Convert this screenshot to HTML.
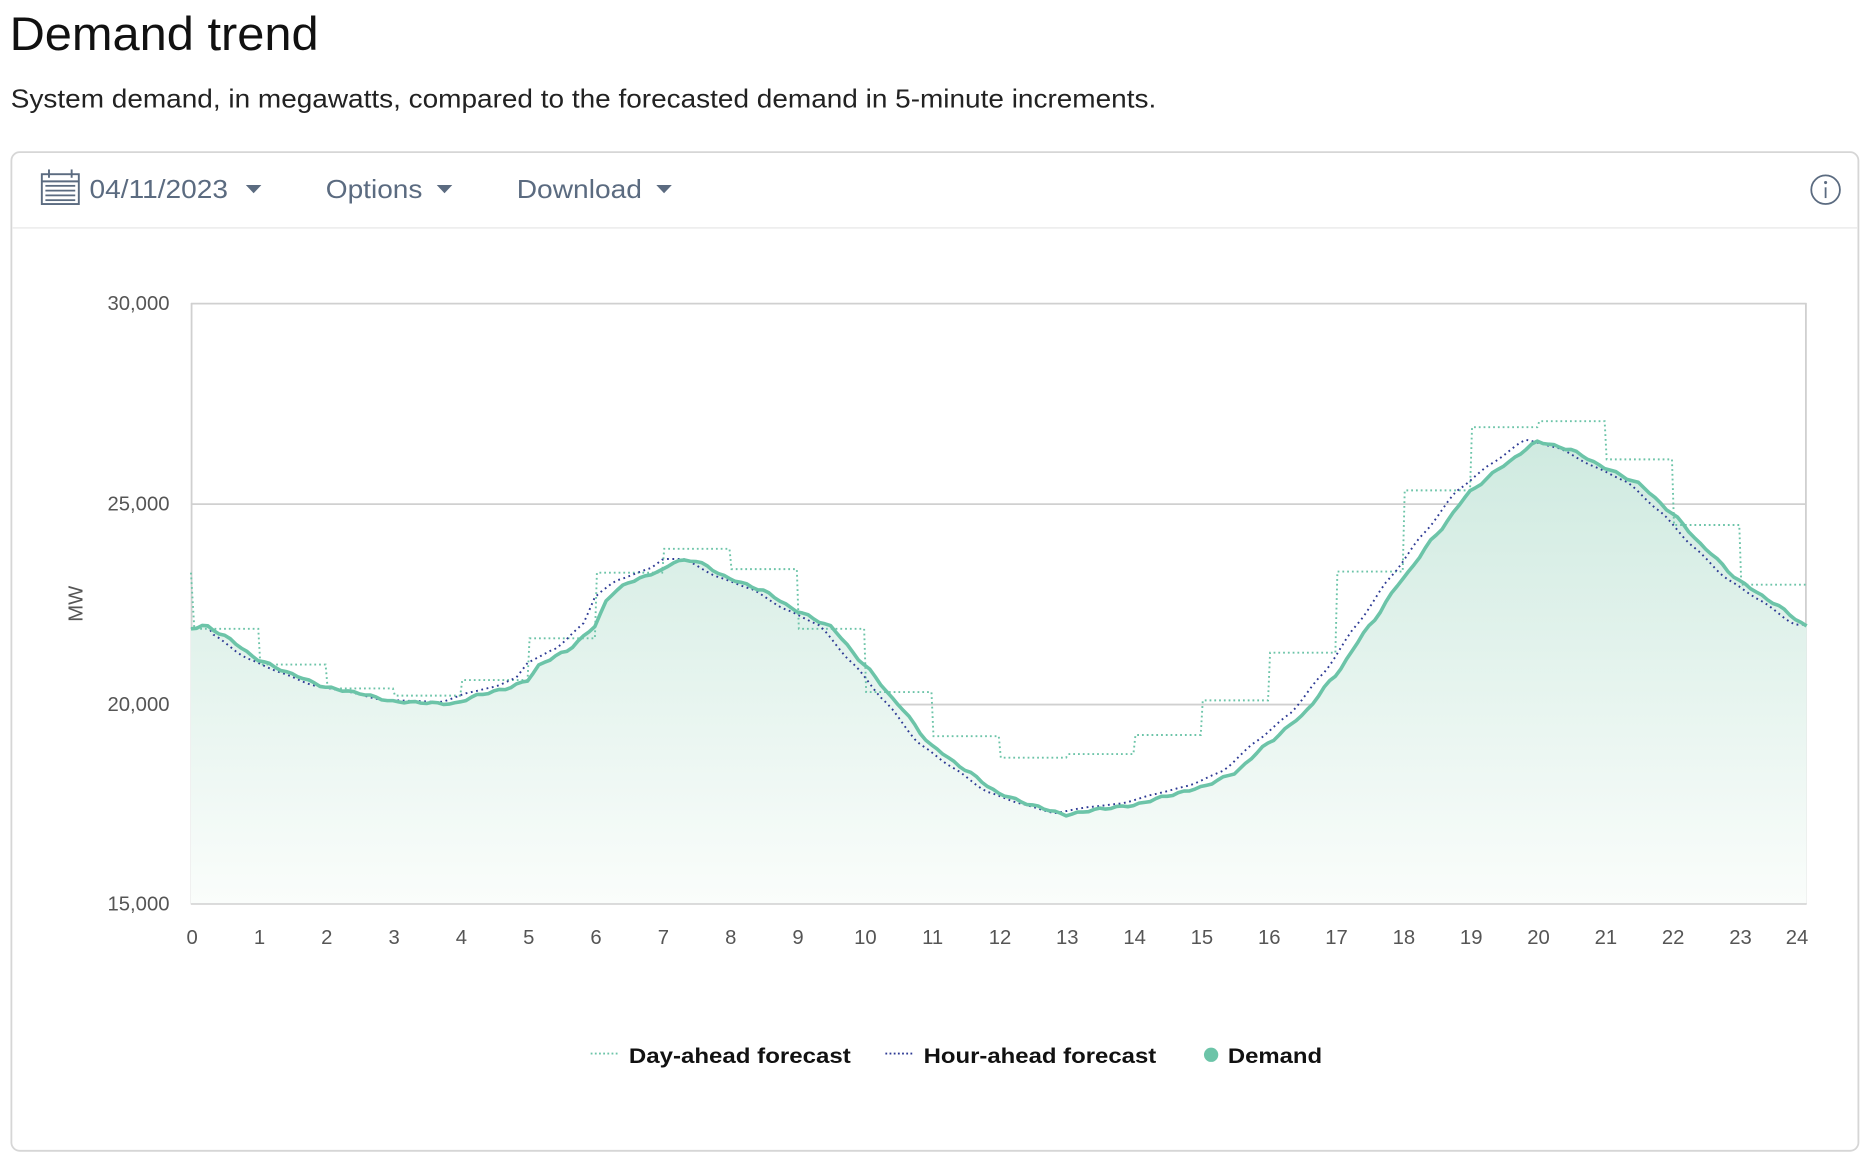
<!DOCTYPE html>
<html><head><meta charset="utf-8"><style>
html,body{margin:0;padding:0;background:#fff;width:1871px;height:1165px;overflow:hidden}
svg{display:block}
text{font-family:"Liberation Sans",Arial,sans-serif}
</style></head><body>
<svg id="s" width="1871" height="1165" viewBox="0 0 1568 976.4" xmlns="http://www.w3.org/2000/svg">
<defs>
<linearGradient id="g" x1="0" y1="0" x2="0" y2="1">
<stop offset="0" stop-color="#cfeae0"/><stop offset="1" stop-color="#fafdfb"/>
</linearGradient>
</defs>
<text x="8" y="42" font-size="40" fill="#111" textLength="259" lengthAdjust="spacingAndGlyphs">Demand trend</text>
<text x="9" y="90" font-size="22" fill="#222" textLength="960" lengthAdjust="spacingAndGlyphs">System demand, in megawatts, compared to the forecasted demand in 5-minute increments.</text>
<rect x="9.5" y="127.5" width="1548" height="837" rx="7" fill="#fff" stroke="#d6d6d6" stroke-width="1.5"/>
<line x1="10" y1="191" x2="1557" y2="191" stroke="#eee" stroke-width="1.5"/>
<g stroke="#5b6b80" fill="none" stroke-width="1.6">
<rect x="35" y="146" width="31" height="25"/>
<line x1="35" y1="152" x2="66" y2="152"/>
<line x1="41" y1="142" x2="41" y2="149"/><line x1="60" y1="142" x2="60" y2="149"/>
</g>
<g fill="#5b6b80">
<rect x="38" y="155" width="25" height="1.5"/><rect x="38" y="159" width="25" height="1.5"/><rect x="38" y="163" width="25" height="1.5"/><rect x="38" y="167" width="25" height="1.5"/>
</g>
<text x="75" y="166" font-size="22" fill="#5b6b80" textLength="116" lengthAdjust="spacingAndGlyphs">04/11/2023</text>
<path d="M206 155h13l-6.5 7z" fill="#5b6b80"/>
<text x="273" y="166" font-size="22" fill="#5b6b80" textLength="81" lengthAdjust="spacingAndGlyphs">Options</text>
<path d="M366 155h13l-6.5 7z" fill="#5b6b80"/>
<text x="433" y="166" font-size="22" fill="#5b6b80" textLength="105" lengthAdjust="spacingAndGlyphs">Download</text>
<path d="M550 155h13l-6.5 7z" fill="#5b6b80"/>
<circle cx="1530" cy="159" r="12" fill="none" stroke="#5b6b80" stroke-width="1.5"/>
<circle cx="1530" cy="153" r="1.3" fill="#5b6b80"/>
<line x1="1530" y1="157" x2="1530" y2="166" stroke="#5b6b80" stroke-width="1.5"/>
<g stroke="#d0d0d0" stroke-width="1.5">
<line x1="160" y1="254.5" x2="1514" y2="254.5"/>
<line x1="160" y1="422.5" x2="1514" y2="422.5"/>
<line x1="160" y1="590.5" x2="1514" y2="590.5"/>
<line x1="160" y1="757.5" x2="1514" y2="757.5"/>
<line x1="160.5" y1="254" x2="160.5" y2="758"/>
<line x1="1513.5" y1="254" x2="1513.5" y2="758"/>
</g>
<g font-size="17" fill="#555" text-anchor="end">
<text x="142" y="260">30,000</text><text x="142" y="428">25,000</text><text x="142" y="596">20,000</text><text x="142" y="763">15,000</text>
</g>
<text transform="translate(69,506) rotate(-90)" font-size="17" fill="#555" text-anchor="middle">MW</text>
<g id="xl" font-size="17" fill="#555" text-anchor="middle"></g>
<path id="fill" fill="url(#g)"/>
<path id="day" fill="none" stroke="#6cc4a8" stroke-width="1.6" stroke-dasharray="1.5 2.5"/>
<path id="hour" fill="none" stroke="#2d3a94" stroke-width="1.6" stroke-dasharray="1.5 3"/>
<path id="dem" fill="none" stroke="#6cc4a8" stroke-width="3" stroke-linejoin="round"/>
<line x1="495" y1="883" x2="519" y2="883" stroke="#6cc4a8" stroke-width="1.6" stroke-dasharray="1.5 2"/>
<text x="527" y="891" font-size="18" font-weight="bold" fill="#111" textLength="186" lengthAdjust="spacingAndGlyphs">Day-ahead forecast</text>
<line x1="742" y1="883" x2="766" y2="883" stroke="#2d3a94" stroke-width="1.6" stroke-dasharray="1.5 2"/>
<text x="774" y="891" font-size="18" font-weight="bold" fill="#111" textLength="195" lengthAdjust="spacingAndGlyphs">Hour-ahead forecast</text>
<circle cx="1015" cy="884" r="6" fill="#6cc4a8"/>
<text x="1029" y="891" font-size="18" font-weight="bold" fill="#111" textLength="79" lengthAdjust="spacingAndGlyphs">Demand</text>
</svg>
<script>
var X=function(h){return 160+h*56.42};
var xl=document.getElementById('xl'),s='';
for(var i=0;i<=24;i++){s+='<text x="'+(i==24?X(i)-8:X(i)+1)+'" y="791">'+i+'</text>';}
xl.innerHTML=s;
var D=[[0,527],[0.2,524],[0.5,533],[1,553],[1.5,565],[2,576],[2.5,581],[3,588],[3.5,589],[3.9,590],[4.3,582],[4.7,577],[5,570],[5.2,556],[5.6,545],[6,525],[6.2,500],[6.5,488],[7,478],[7.2,470],[7.5,470],[8,485],[8.5,495],[9,512],[9.5,525],[10,557],[10.5,590],[11,625],[11.5,645],[12,665],[12.5,675],[13,683],[13.5,678],[14,675],[14.5,667],[15,660],[15.5,648],[16,623],[16.5,600],[17,566],[17.5,525],[18,485],[18.5,448],[19,412],[19.5,390],[20,370],[20.5,377],[21,392],[21.5,405],[22,430],[22.5,460],[23,487],[23.5,505],[24,525]];
function interp(h){for(var i=0;i<D.length-1;i++){if(h<=D[i+1][0]){var a=D[i],b=D[i+1],t=(h-a[0])/(b[0]-a[0]);var tt=t*t*(3-2*t)*0.3+t*0.7;return a[1]+(b[1]-a[1])*tt;}}return D[D.length-1][1];}
var p='',pts=[];
for(var k=0;k<=288;k++){var h=k/12;var y=interp(h)+Math.sin(k*1.7)*0.8;pts.push([X(h),y]);}
p='M'+pts.map(function(q){return q[0].toFixed(1)+' '+q[1].toFixed(1)}).join('L');
document.getElementById('dem').setAttribute('d',p);
document.getElementById('fill').setAttribute('d',p+'L'+X(24)+' 757L'+X(0)+' 757Z');
var hp='';
for(var k=0;k<=288;k++){var h=k/12;var hh=Math.min(24,h+0.18);var y=interp(hh)-1.5;if(h<0.3)y=interp(h);hp+=(k?'L':'M')+X(h).toFixed(1)+' '+y.toFixed(1);}
document.getElementById('hour').setAttribute('d',hp);
var S=[527,557,577,583,570,535,480,460,477,527,580,617,635,632,616,587,547,479,411,358,353,385,440,490];
var dp='M'+X(0)+' 480L'+X(0.05)+' 527';
for(var i=0;i<24;i++){if(i>0)dp+='L'+X(i+0.03)+' '+S[i];dp+='L'+X(i+1)+' '+S[i];}
document.getElementById('day').setAttribute('d',dp);
</script>
</body></html>
